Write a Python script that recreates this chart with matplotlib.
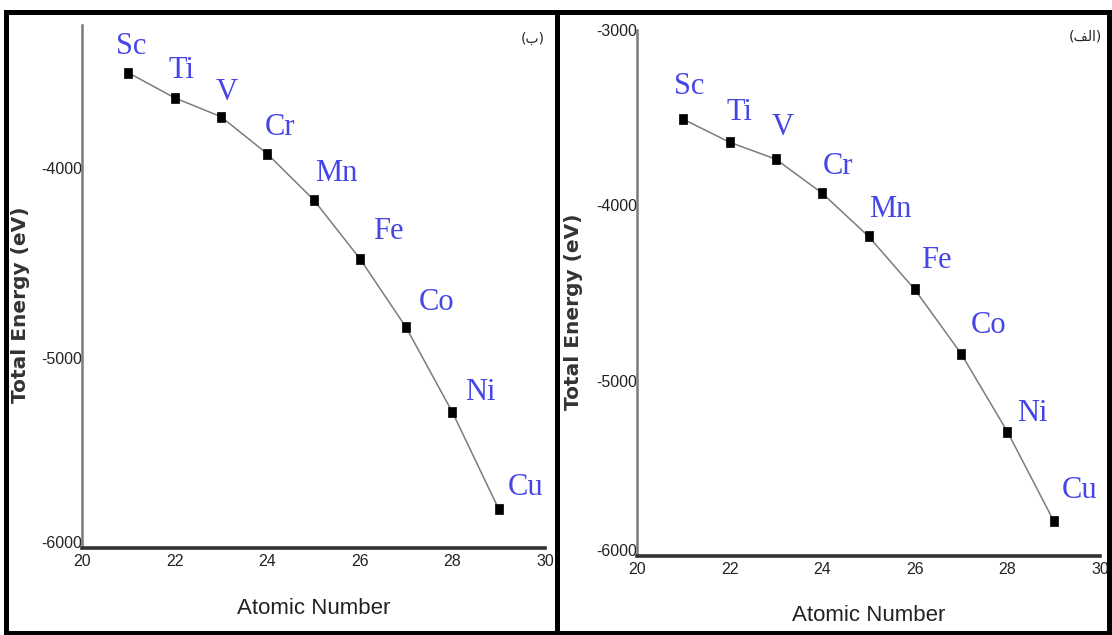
import matplotlib
matplotlib.use("Agg")
import matplotlib.pyplot as plt
from matplotlib.patches import Rectangle
from matplotlib.path import Path

# Total energy of the 3d transition metals versus atomic number
elements = ["Sc", "Ti", "V", "Cr", "Mn", "Fe", "Co", "Ni", "Cu"]
atomic_number = [21, 22, 23, 24, 25, 26, 27, 28, 29]
energy_b = [-3501, -3633, -3732, -3927, -4168, -4478, -4840, -5286, -5795]
energy_alef = [-3509, -3640, -3737, -3931, -4177, -4480, -4846, -5291, -5800]
x_ticks = [20, 22, 24, 26, 28, 30]
y_ticks_b = [-6000, -5000, -4000]
y_ticks_alef = [-6000, -5000, -4000, -3000]
panel_tag_b = "(\u0628)"
panel_tag_alef = "(\ufed2\ufedf\ufe8d)"

W, H = 1112, 635
fig = plt.figure(figsize=(W / 100, H / 100), dpi=100)
fig.patch.set_facecolor("white")

# label offsets (pixels) from each point
offs_b = [(3, 26), (7, 27), (6, 24), (13, 26), (23, 26), (29, 27), (30, 25), (28, 20), (27, 22)]
offs_alef = [(6, 33), (10, 30), (7, 32), (16, 27), (22, 27), (22, 29), (27, 28), (25, 18), (26, 30)]

rect_marker = Path([(-0.4, -0.5), (0.4, -0.5), (0.4, 0.5), (-0.4, 0.5), (-0.4, -0.5)],
                   [Path.MOVETO, Path.LINETO, Path.LINETO, Path.LINETO, Path.CLOSEPOLY])

tick_font = dict(family=["Liberation Sans Narrow", "Liberation Sans", "DejaVu Sans"], size=11.5)
label_blue = "#4646e6"


def panel(box, energy, yticks, ylim, offs, tag, tag_pos, ylab_pos, xlab_y):
    x0, y0, x1, y1 = box
    ax = fig.add_axes([x0 / W, 1 - y1 / H, (x1 - x0) / W, (y1 - y0) / H])
    ax.plot(atomic_number, energy, color="#7c7c7c", lw=1.1, zorder=2)
    ax.plot(atomic_number, energy, ls="none", marker=rect_marker, ms=7.5,
            mfc="black", mec="black", mew=0.5, zorder=3)
    for el, xv, yv, (dx, dy) in zip(elements, atomic_number, energy, offs):
        ax.annotate(el, (xv, yv), xytext=(dx, dy), textcoords="offset pixels",
                    ha="center", va="center", color=label_blue,
                    fontfamily="Liberation Serif", fontsize=22, zorder=4)
    ax.set_xlim(20, 30)
    ax.set_ylim(*ylim)
    ax.set_xticks(x_ticks)
    ax.set_yticks(yticks)
    ax.set_xticklabels([str(t) for t in x_ticks], fontdict=tick_font)
    ylabels = ax.set_yticklabels([str(t) for t in yticks], fontdict=tick_font)
    # lowest value label sits just above the x axis line
    ylabels[0].set_verticalalignment("baseline")
    ax.tick_params(axis="y", length=0, pad=0, colors="#222222")
    ax.tick_params(axis="x", length=0, pad=4, colors="#222222")
    for s in ("top", "right"):
        ax.spines[s].set_visible(False)
    ax.spines["left"].set_color("#7a7a7a")
    ax.spines["left"].set_linewidth(1.8)
    ax.spines["bottom"].set_color("#333333")
    ax.spines["bottom"].set_linewidth(2.6)
    ax.set_xlabel("Atomic Number", fontfamily=["Liberation Sans Narrow", "Liberation Sans"],
                  fontsize=16, color="#222222")
    ax.xaxis.set_label_coords(0.5, xlab_y)
    ax.set_ylabel("Total Energy (eV)", fontfamily="DejaVu Sans", fontweight="bold",
                  fontsize=14.5, color="#333333")
    ax.yaxis.set_label_coords(ylab_pos[0], ylab_pos[1])
    ax.text(tag_pos[0], tag_pos[1], tag, transform=ax.transAxes, ha="center", va="center",
            fontfamily="DejaVu Sans", fontsize=10, color="#222222")
    return ax


panel((82, 25, 545, 548), energy_b, y_ticks_b, (-6000, -3250), offs_b,
      panel_tag_b, (0.974, 0.973), (-0.112, 0.465), -0.096)
panel((637, 30, 1100, 556), energy_alef, y_ticks_alef, (-6000, -3000), offs_alef,
      panel_tag_alef, (0.968, 0.987), (-0.117, 0.464), -0.093)

# black frames around the two panels
for (px0, px1) in [(6, 557), (557, 1109)]:
    fig.add_artist(Rectangle((px0 / W, 2 / H), (px1 - px0) / W, (H - 14) / H,
                             transform=fig.transFigure, fill=False,
                             edgecolor="black", lw=3.6))

fig.savefig("out.png", dpi=100)
